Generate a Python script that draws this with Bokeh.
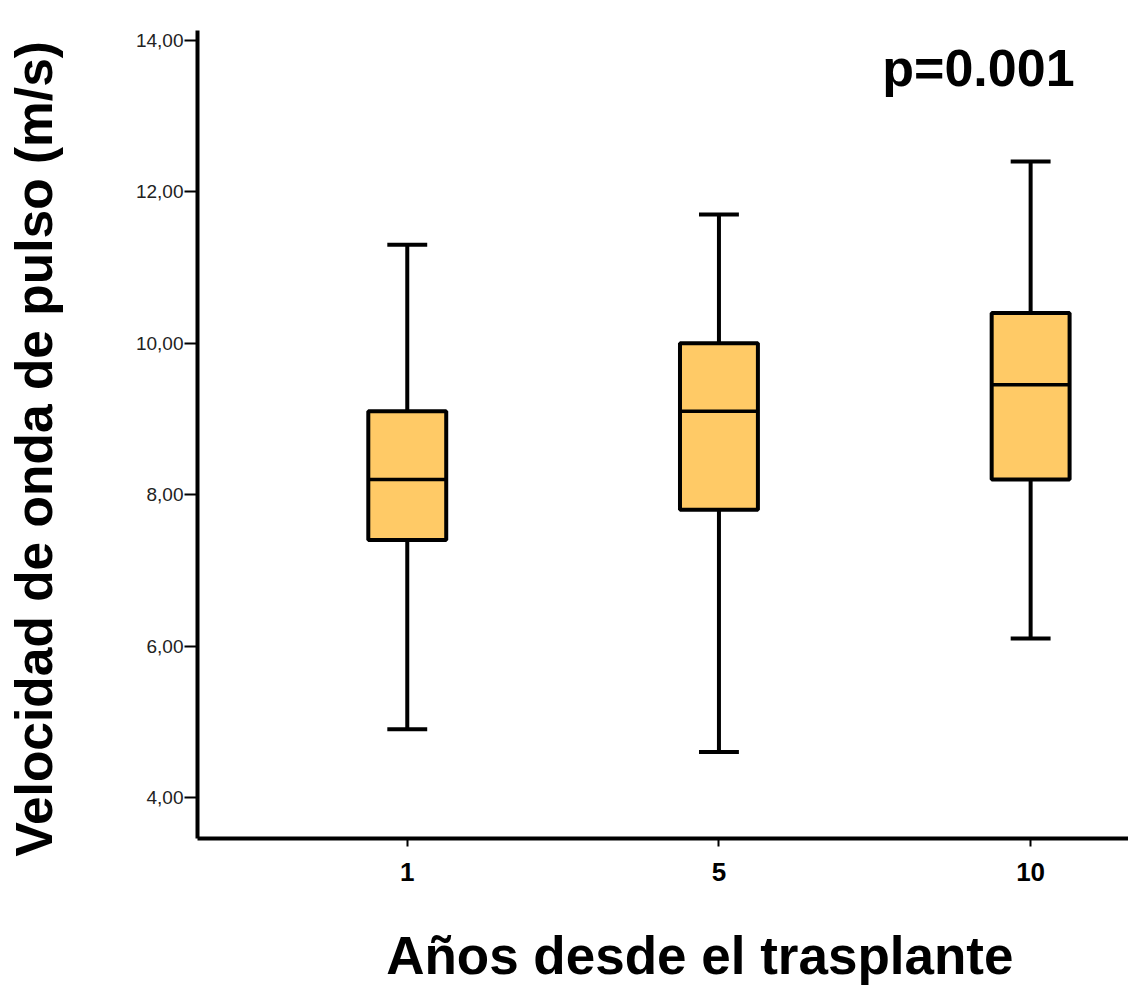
from bokeh.plotting import figure
from bokeh.models import FixedTicker, CustomJSTickFormatter, Range1d, Label, ColumnDataSource
from bokeh.embed import file_html
from bokeh.resources import INLINE

# ---- data ----
years = ["1", "5", "10"]
whisker_low = [4.9, 4.6, 6.1]
q1 = [7.4, 7.8, 8.2]
median = [8.2, 9.1, 9.45]
q3 = [9.1, 10.0, 10.4]
whisker_high = [11.3, 11.7, 12.4]
y_ticks = [4, 6, 8, 10, 12, 14]
p_text = "p=0.001"
x_title = "Años desde el trasplante"
y_title = "Velocidad de onda de pulso (m/s)"

pos = [i + 1 for i in range(len(years))]
box_w = 0.25
cap_w = 0.128

src = ColumnDataSource(dict(
    x=pos, lo=whisker_low, q1=q1, med=median, q3=q3, hi=whisker_high,
    l=[x - box_w / 2 for x in pos], r=[x + box_w / 2 for x in pos],
    cl=[x - cap_w / 2 for x in pos], cr=[x + cap_w / 2 for x in pos],
))

FONT = "Liberation Sans"
NB = "\u00a0"
LW = 4

p = figure(width=1128, height=988, output_backend="svg", toolbar_location=None,
           x_range=Range1d(0.327, 3.314), y_range=Range1d(3.458, 14.13),
           min_border_left=197, min_border_right=0, min_border_top=30, min_border_bottom=150)
p.outline_line_color = None
p.xgrid.visible = False
p.ygrid.visible = False
p.background_fill_color = "white"
p.border_fill_color = "white"

# whiskers
p.segment(x0="x", y0="q3", x1="x", y1="hi", source=src, line_color="black", line_width=LW)
p.segment(x0="x", y0="lo", x1="x", y1="q1", source=src, line_color="black", line_width=LW)
# caps
p.segment(x0="cl", y0="hi", x1="cr", y1="hi", source=src, line_color="black", line_width=LW)
p.segment(x0="cl", y0="lo", x1="cr", y1="lo", source=src, line_color="black", line_width=LW)
# boxes
p.quad(left="l", right="r", bottom="q1", top="q3", source=src,
       fill_color="#FFCA66", line_color="black", line_width=LW)
# median
p.segment(x0="l", y0="med", x1="r", y1="med", source=src, line_color="black", line_width=3.5)

# axes
p.yaxis.ticker = FixedTicker(ticks=y_ticks)
p.yaxis.formatter = CustomJSTickFormatter(code="return tick.toFixed(2).replace('.', ',');")
p.xaxis.ticker = FixedTicker(ticks=pos)
p.xaxis.formatter = CustomJSTickFormatter(args=dict(labels=years),
                                          code="return labels[Math.round(tick) - 1];")
for ax in (p.xaxis, p.yaxis):
    ax.axis_line_width = 4
    ax.axis_line_color = "black"
    ax.major_tick_line_color = "black"
    ax.major_tick_line_width = 2
    ax.major_tick_in = 0
    ax.minor_tick_line_color = None
    ax.major_label_text_font = FONT
    ax.major_label_text_color = "black"
    ax.axis_label_text_font = FONT
    ax.axis_label_text_font_style = "bold"
    ax.axis_label_text_color = "black"

p.yaxis.major_tick_out = 13
p.yaxis.major_label_text_font_size = "19px"
p.yaxis.major_label_text_color = "#222222"
p.yaxis.major_label_standoff = 1
p.yaxis.axis_label = y_title + NB * 2
p.yaxis.axis_label_text_font_size = "51.5px"
p.yaxis.axis_label_standoff = 70

p.xaxis.major_tick_out = 8
p.xaxis.major_label_text_font_size = "26px"
p.xaxis.major_label_text_font_style = "bold"
p.xaxis.major_label_standoff = 16
p.xaxis.axis_label = NB * 5 + x_title
p.xaxis.axis_label_text_font_size = "53px"
p.xaxis.axis_label_standoff = 42

p.add_layout(Label(x=3.141, y=13.634, text=p_text, text_font=FONT, text_font_size="52px",
                   text_font_style="bold", text_color="black", text_align="right",
                   text_baseline="alphabetic"))

open("out.html", "w").write(file_html(p, INLINE))
